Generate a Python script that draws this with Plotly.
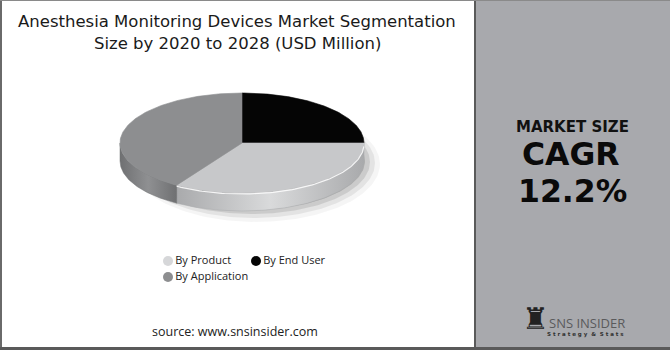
import numpy as np
import plotly.graph_objects as go

# ---------------- data ----------------
categories = ["By End User", "By Product", "By Application"]
values = [25, 34, 41]
slice_colors = ["#050505", "#c7c8ca", "#8d8e90"]
side_colors = [["#000000", "#1a1a1a"], ["#a9aaac", "#d9dadb"], ["#6f7072", "#8f9092"]]
legend_order = ["By Product", "By End User", "By Application"]
title_lines = ["Anesthesia Monitoring Devices Market Segmentation", "Size by 2020 to 2028 (USD Million)"]
kpi_label = "MARKET SIZE"
kpi_name = "CAGR"
kpi_value = "12.2%"
source_text = "source: www.snsinsider.com"

# ---------------- geometry ----------------
W, H = 670, 350
cx, cy, rx, ry, depth = 242, 143, 122, 50, 18

def ell(t, dy=0.0):
    return cx + rx * np.cos(t), cy - ry * np.sin(t) + dy

fig = go.Figure()

# shadow
for (ox, oy, sx, sy, a) in [(14, 21, 124, 58, 0.04), (12, 20, 121, 55, 0.07), (10, 19, 118, 52, 0.10), (8, 18, 115, 49, 0.14)]:
    t = np.linspace(0, 2 * np.pi, 200)
    x = cx + ox + sx * np.cos(t)
    y = cy + oy - sy * np.sin(t)
    fig.add_trace(go.Scatter(x=x, y=y, mode="lines", fill="toself", line=dict(width=0),
                             fillcolor=f"rgba(0,0,0,{a})", hoverinfo="skip", showlegend=False))

total = sum(values)
angles = [np.pi / 2]
for v in values:
    angles.append(angles[-1] - 2 * np.pi * v / total)

# sides (front half: t in [-pi, 0])
for i in range(len(values)):
    a0, a1 = angles[i], angles[i + 1]  # a0 > a1
    for shift in (0, -2 * np.pi):
        hi = min(a0 + shift, 0)
        lo = max(a1 + shift, -np.pi)
        if hi > lo:
            t = np.linspace(hi, lo, 80)
            xt, yt = ell(t)
            xb, yb = ell(t[::-1], depth)
            fig.add_trace(go.Scatter(
                x=np.concatenate([xt, xb, xt[:1]]), y=np.concatenate([yt, yb, yt[:1]]),
                mode="lines", fill="toself", line=dict(width=0.5, color=side_colors[i][0]),
                fillgradient=dict(type="horizontal",
                                  colorscale=[[0, side_colors[i][0]], [0.5, side_colors[i][1]], [1, side_colors[i][0]]]),
                hoverinfo="skip", showlegend=False))

# top faces
for i in range(len(values)):
    t = np.linspace(angles[i], angles[i + 1], 120)
    xe, ye = ell(t)
    x = np.concatenate([[cx], xe, [cx]])
    y = np.concatenate([[cy], ye, [cy]])
    fig.add_trace(go.Scatter(x=x, y=y, mode="lines", fill="toself",
                             line=dict(width=0.6, color=slice_colors[i]),
                             fillcolor=slice_colors[i], hoverinfo="skip", showlegend=False))

# rim highlight
t = np.linspace(-0.05, angles[2], 100)
xr, yr = ell(t, 1)
fig.add_trace(go.Scatter(x=xr, y=yr, mode="lines", line=dict(width=1.2, color="rgba(255,255,255,0.85)"),
                         hoverinfo="skip", showlegend=False))

# legend (custom)
leg_pos = {"By Product": (168, 261), "By End User": (256, 261), "By Application": (168, 277)}
for name in legend_order:
    i = categories.index(name)
    lx, ly = leg_pos[name]
    fig.add_trace(go.Scatter(x=[lx], y=[ly], mode="markers+text", text=[name],
                             textposition="middle right",
                             textfont=dict(family="Open Sans", size=11, color="#222"),
                             marker=dict(size=10, color=slice_colors[i] if name != "By Product" else "#d6d7d9"),
                             hoverinfo="skip", showlegend=False))

shapes = [
    dict(type="rect", xref="paper", yref="paper", x0=475 / W, x1=1, y0=0, y1=1,
         fillcolor="#a8a9ad", line=dict(width=0), layer="below"),
    dict(type="line", xref="paper", yref="paper", x0=475 / W, x1=475 / W, y0=0, y1=1,
         line=dict(color="#5a5a5a", width=2)),
    dict(type="line", xref="paper", yref="paper", x0=1 / W, x1=1 / W, y0=0, y1=1,
         line=dict(color="#6a6a6a", width=2)),
    dict(type="line", xref="paper", yref="paper", x0=0, x1=1, y0=1.5 / H, y1=1.5 / H,
         line=dict(color="#5a5a5a", width=3)),
    dict(type="line", xref="paper", yref="paper", x0=0, x1=1, y0=1 - 0.5 / H, y1=1 - 0.5 / H,
         line=dict(color="#8a8a8a", width=1)),
]

def ann(text, x, y, size, color="#111", family="Open Sans", bold=False, height=None):
    d = dict(text=f"<b>{text}</b>" if bold else text, x=x / W, y=1 - y / H, xref="paper", yref="paper",
             xanchor="center", yanchor="middle",
             showarrow=False, font=dict(family=family, size=size, color=color))
    if height:
        d["height"] = height
    return d

annotations = [
    ann(title_lines[0], 237, 21, 16.5, "#1a1a1a", family="DejaVu Sans"),
    ann(title_lines[1], 237, 43, 16.5, "#1a1a1a", family="DejaVu Sans"),
    ann(kpi_label, 572, 127, 15, "#111", family="DejaVu Sans", bold=True, height=16),
    ann(kpi_name, 571, 154, 31.5, "#0a0a0a", family="DejaVu Sans", bold=True, height=28),
    ann(kpi_value, 572, 191, 31.5, "#0a0a0a", family="DejaVu Sans", bold=True, height=28),
    ann(source_text, 235, 331, 12.5, "#222"),
    ann("♜", 535, 318, 30, "#222", family="DejaVu Sans"),
    ann("SNS INSIDER", 587, 323, 13, "#5a5a5c", family="Open Sans"),
    ann("<b>S t r a t e g y  &  S t a t s</b>", 585, 334, 5.5, "#333", family="DejaVu Sans"),
]

fig.update_layout(
    width=W, height=H, margin=dict(l=0, r=0, t=0, b=0),
    paper_bgcolor="white", plot_bgcolor="rgba(0,0,0,0)",
    xaxis=dict(range=[0, W], visible=False, domain=[0, 1], fixedrange=True),
    yaxis=dict(range=[H, 0], visible=False, domain=[0, 1], fixedrange=True),
    shapes=shapes, annotations=annotations, showlegend=False,
)

fig.write_html("out.html")
